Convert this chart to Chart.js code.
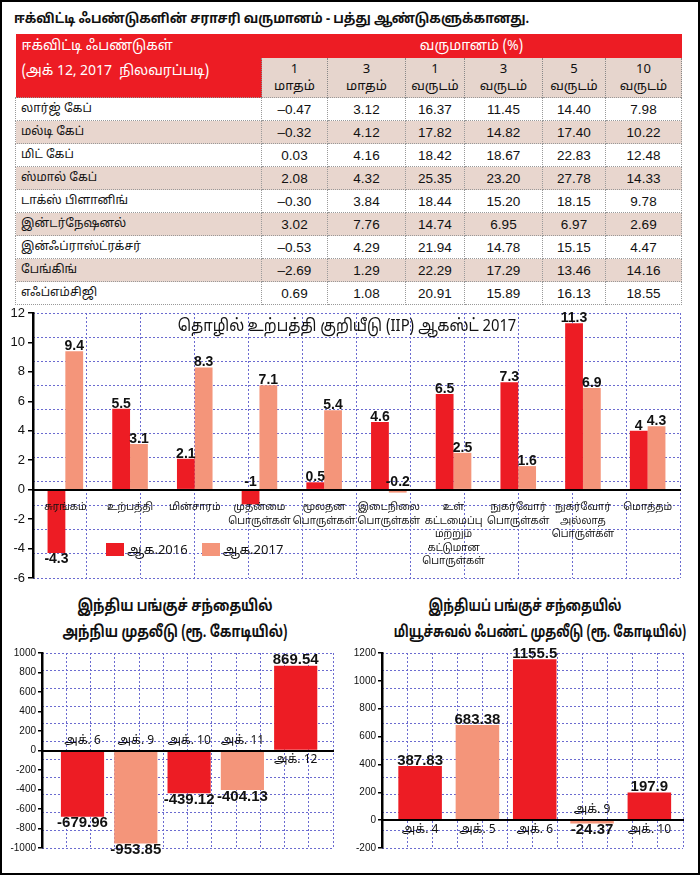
<!DOCTYPE html>
<html>
<head>
<meta charset="utf-8">
<script src="https://cdn.jsdelivr.net/npm/chart.js@4.4.0/dist/chart.umd.min.js"></script>
<style>
  html, body { margin: 0; padding: 0; background: #fff; }
  body { width: 700px; height: 875px; position: relative; overflow: hidden;
         font-family: "Noto Sans Tamil", "Lohit Tamil", "Noto Sans", "Liberation Sans", sans-serif; color: #111; }
  #frame { position: absolute; left: 0; top: 0; width: 696px; height: 871px; border: 2px solid #000; pointer-events: none; }
  #heading { position: absolute; left: 14px; top: 11px; font-size: 13.5px; font-weight: bold; white-space: nowrap;
             transform: scaleX(0.94); transform-origin: left center; }
  #tbl { position: absolute; left: 15px; top: 34px; border-collapse: collapse; table-layout: fixed; width: 666px; }
  #tbl th, #tbl td { padding: 0; font-weight: normal; }
  #tbl .corner { background: #ed1c24; color: #fff; text-align: left; vertical-align: top;
                 font-size: 14px; line-height: 25px; padding: 0 0 0 6px; }
  #tbl .ret { background: #ed1c24; color: #fff; font-size: 14px; height: 24px; }
  #tbl .per { background: #e6d5cd; font-size: 13px; line-height: 17px; height: 35px; padding-top: 4px;
              vertical-align: top; border-left: 1px dotted #888; border-right: 1px dotted #888; }
  #tbl td { height: 22px; font-size: 13.5px; border: 1px dotted #999; text-align: center;
            font-family: "Liberation Sans Narrow", "Liberation Sans", sans-serif; }
  #tbl td.name { text-align: left; padding-left: 5px; font-size: 12px;
                 font-family: "Noto Sans Tamil", "Lohit Tamil", "Noto Sans", sans-serif; }
  #tbl tr.alt td { background: #e8d6ce; }
  .box { position: absolute; }
  #iipTitle { position: absolute; left: 0; width: 694px; top: 316px; text-align: center; font-size: 17px; white-space: nowrap;
              transform: scaleX(0.87); }
  #legend { position: absolute; left: 106px; top: 543px; font-size: 13px; white-space: nowrap; }
  #legend span.sw { display: inline-block; width: 18px; height: 13px; vertical-align: -2px; margin-right: 3px; }
  #legend span.item { margin-right: 14px; }
  .btitle { position: absolute; top: 594px; text-align: center; font-size: 16px; font-weight: bold; line-height: 26px;
            white-space: nowrap; }
</style>
</head>
<body>
<div id="heading">ஈக்விட்டி ஃபண்டுகளின் சராசரி வருமானம் - பத்து ஆண்டுகளுக்கானது.</div>
<table id="tbl"></table>

<div class="box" style="left:0;top:300px;width:692px;height:290px;"><canvas id="iip"></canvas></div>
<div id="iipTitle">தொழில் உற்பத்தி குறியீடு (IIP) ஆகஸ்ட் 2017</div>
<div id="legend"></div>

<div class="btitle" style="left:0;width:350px;transform:scaleX(0.8);">இந்திய பங்குச் சந்தையில்<br>அந்நிய முதலீடு (ரூ. கோடியில்)</div>
<div class="btitle" style="left:350px;width:350px;transform:scaleX(0.75);">இந்தியப் பங்குச் சந்தையில்<br>மியூச்சுவல் ஃபண்ட் முதலீடு (ரூ. கோடியில்)</div>
<div class="box" style="left:0;top:645px;width:345px;height:215px;"><canvas id="fii"></canvas></div>
<div class="box" style="left:345px;top:645px;width:350px;height:215px;"><canvas id="mf"></canvas></div>
<div id="frame"></div>

<script>
// ---- table data ----
const fundNames = ['லார்ஜ் கேப்', 'மல்டி கேப்', 'மிட் கேப்', 'ஸ்மால் கேப்', 'டாக்ஸ் பிளானிங்',
  'இன்டர்நேஷனல்', 'இன்ஃப்ராஸ்ட்ரக்சர்', 'பேங்கிங்', 'எஃப்எம்சிஜி'];
const periodNum = ['1', '3', '1', '3', '5', '10'];
const periodUnit = ['மாதம்', 'மாதம்', 'வருடம்', 'வருடம்', 'வருடம்', 'வருடம்'];
const ret1m = [-0.47, -0.32, 0.03, 2.08, -0.30, 3.02, -0.53, -2.69, 0.69];
const ret3m = [3.12, 4.12, 4.16, 4.32, 3.84, 7.76, 4.29, 1.29, 1.08];
const ret1y = [16.37, 17.82, 18.42, 25.35, 18.44, 14.74, 21.94, 22.29, 20.91];
const ret3y = [11.45, 14.82, 18.67, 23.20, 15.20, 6.95, 14.78, 17.29, 15.89];
const ret5y = [14.40, 17.40, 22.83, 27.78, 18.15, 6.97, 15.15, 13.46, 16.13];
const ret10y = [7.98, 10.22, 12.48, 14.33, 9.78, 2.69, 4.47, 14.16, 18.55];

// ---- IIP chart data ----
const iipCats = [['சுரங்கம்'], ['உற்பத்தி'], ['மின்சாரம்'], ['முதன்மை', 'பொருள்கள்'], ['மூலதன', 'பொருள்கள்'],
  ['இடைநிலை', 'பொருள்கள்'], ['உள்', 'கட்டமைப்பு', 'மற்றும்', 'கட்டுமான', 'பொருள்கள்'],
  ['நுகர்வோர்', 'பொருள்கள்'], ['நுகர்வோர்', 'அல்லாத', 'பொருள்கள்'], ['மொத்தம்']];
const aug2016 = [-4.3, 5.5, 2.1, -1, 0.5, 4.6, 6.5, 7.3, 11.3, 4];
const aug2017 = [9.4, 3.1, 8.3, 7.1, 5.4, -0.2, 2.5, 1.6, 6.9, 4.3];
const iipTicks = [12, 10, 8, 6, 4, 2, 0, -2, -4, -6];

// ---- investment charts ----
const fiiDays = ['அக். 6', 'அக். 9', 'அக். 10', 'அக். 11', 'அக். 12'];
const fiiValues = [-679.96, -953.85, -439.12, -404.13, 869.54];
const mfDays = ['அக். 4', 'அக். 5', 'அக். 6', 'அக். 9', 'அக். 10'];
const mfValues = [387.83, 683.38, 1155.5, -24.37, 197.9];

const RED = '#ed1c24';
const SALMON = '#f4957a';
const GRID = '#6b6bd0';

// build the table
const periods = [ret1m, ret3m, ret1y, ret3y, ret5y, ret10y];
const fmt = v => v.toFixed(2).replace('-', '–');
let html = '<colgroup><col style="width:246px">' +
  [66, 78, 59, 78, 63, 76].map(w => '<col style="width:' + w + 'px">').join('') + '</colgroup>';
html += '<tr><th class="corner" rowspan="2">ஈக்விட்டி ஃபண்டுகள்<br>(அக் 12, 2017 &nbsp;நிலவரப்படி)</th>' +
  '<th class="ret" colspan="6">வருமானம் (%)</th></tr><tr>';
periodNum.forEach((n, i) => { html += '<th class="per">' + n + '<br>' + periodUnit[i] + '</th>'; });
html += '</tr>';
fundNames.forEach((name, r) => {
  html += '<tr' + (r % 2 ? ' class="alt"' : '') + '><td class="name">' + name + '</td>';
  periods.forEach(p => { html += '<td>' + fmt(p[r]) + '</td>'; });
  html += '</tr>';
});
document.getElementById('tbl').innerHTML = html;

document.getElementById('legend').innerHTML =
  '<span class="item"><span class="sw" style="background:' + RED + '"></span>ஆக.2016</span>' +
  '<span class="item"><span class="sw" style="background:' + SALMON + '"></span>ஆக.2017</span>';

// value labels (and optional category labels next to the zero line)
const barLabels = {
  id: 'barLabels',
  afterDatasetsDraw(chart, args, opts) {
    const ctx = chart.ctx;
    ctx.save();
    ctx.textAlign = 'center';
    ctx.fillStyle = '#111';
    chart.data.datasets.forEach((ds, di) => {
      chart.getDatasetMeta(di).data.forEach((bar, i) => {
        const raw = ds.data[i];
        const v = typeof raw === 'object' ? raw.y : raw;
        const base = bar.base;
        ctx.font = opts.font;
        let y;
        if (v >= 0) { ctx.textBaseline = 'bottom'; y = bar.y + 2; }
        else if (opts.shortAbove && bar.y - base < opts.shortAbove) { ctx.textBaseline = 'bottom'; y = base - 1; }
        else { ctx.textBaseline = 'top'; y = bar.y - 1; }
        ctx.fillText(String(v), bar.x, y);
        if (opts.cats) {
          ctx.font = opts.catFont;
          if (v < 0) { ctx.textBaseline = 'bottom'; ctx.fillText(opts.cats[i], bar.x, base - 4); }
          else { ctx.textBaseline = 'top'; ctx.fillText(opts.cats[i], bar.x, base + 5); }
        }
      });
    });
    ctx.restore();
  }
};

// graph-paper grid: two hidden scales cut the plot into 11 x 11 cells
function gridAxes() {
  return {
    gx: { type: 'linear', position: 'top', min: 0, max: 11, display: true,
          ticks: { display: false, stepSize: 1 },
          grid: { color: GRID, lineWidth: 1, drawTicks: false },
          border: { display: false, dash: [2, 2] } },
    gy: { type: 'linear', position: 'right', min: 0, max: 11, display: true,
          ticks: { display: false, stepSize: 1 },
          grid: { color: GRID, lineWidth: 1, drawTicks: false },
          border: { display: false, dash: [2, 2] } }
  };
}

// IIP chart
new Chart(document.getElementById('iip'), {
  type: 'bar',
  data: {
    labels: iipCats,
    datasets: [
      { label: 'ஆக.2016', data: aug2016, backgroundColor: RED, xAxisID: 'x', yAxisID: 'y' },
      { label: 'ஆக.2017', data: aug2017, backgroundColor: SALMON, xAxisID: 'x', yAxisID: 'y' }
    ]
  },
  options: {
    responsive: true, maintainAspectRatio: false, animation: false,
    categoryPercentage: 0.55, barPercentage: 1.0,
    layout: { padding: { left: 0, right: 12, top: 13, bottom: 12 } },
    plugins: {
      legend: { display: false }, tooltip: { enabled: false },
      barLabels: { font: 'bold 14px "Liberation Sans Narrow", "Liberation Sans", sans-serif', shortAbove: 20 }
    },
    scales: Object.assign(gridAxes(), {
      x: { type: 'category', position: { y: 0 },
           grid: { display: false, drawTicks: false },
           border: { display: true, color: '#000', width: 2, z: 1 },
           ticks: { z: 1, color: '#111', padding: 12, autoSkip: false, maxRotation: 0,
                    font: { size: 10, family: '"Noto Sans Tamil", "Noto Sans", sans-serif', lineHeight: 1.35 } } },
      y: { type: 'linear', position: 'left', min: -6, max: 12,
           afterFit: s => { s.width = 33; },
           afterBuildTicks: s => { s.ticks = iipTicks.map(v => ({ value: v })); },
           grid: { drawOnChartArea: false, drawTicks: true, tickLength: 5, color: '#000', lineWidth: 1.5 },
           border: { display: true, color: '#000', width: 2.5 },
           ticks: { color: '#111', padding: 3, font: { size: 13, family: '"Liberation Sans", sans-serif' } } }
    })
  },
  plugins: [barLabels]
});

function investChart(id, days, values, yMin, yMax, xMin, xMax, catPct, axisWidth) {
  return new Chart(document.getElementById(id), {
    type: 'bar',
    data: {
      datasets: [{
        data: values.map((v, i) => ({ x: i + 1, y: v })),
        backgroundColor: values.map((v, i) => i % 2 ? SALMON : RED),
        xAxisID: 'x', yAxisID: 'y'
      }]
    },
    options: {
      responsive: true, maintainAspectRatio: false, animation: false,
      categoryPercentage: catPct, barPercentage: 1.0,
      layout: { padding: { left: 2, right: 12, top: 7, bottom: 12 } },
      plugins: {
        legend: { display: false }, tooltip: { enabled: false },
        barLabels: { font: 'bold 15px "Liberation Sans Narrow", "Liberation Sans", sans-serif',
                     cats: days, catFont: '12px "Noto Sans Tamil", "Noto Sans", sans-serif' }
      },
      scales: Object.assign(gridAxes(), {
        x: { type: 'linear', position: { y: 0 }, min: xMin, max: xMax, offset: false,
             afterBuildTicks: s => { s.ticks = values.map((v, i) => ({ value: i + 1 })); },
             grid: { display: false, drawTicks: false },
             border: { display: true, color: '#000', width: 2, z: 1 },
             ticks: { display: false } },
        y: { type: 'linear', position: 'left', min: yMin, max: yMax,
             afterFit: s => { s.width = axisWidth; },
             grid: { drawOnChartArea: false, drawTicks: true, tickLength: 4, color: '#000', lineWidth: 1.5 },
             border: { display: true, color: '#000', width: 2.5 },
             ticks: { stepSize: 200, color: '#111', padding: 2, callback: v => String(v),
                      font: { size: 10, family: '"Liberation Sans", sans-serif' } } }
      })
    },
    plugins: [barLabels]
  });
}

investChart('fii', fiiDays, fiiValues, -1000, 1000, 0.24, 5.70, 0.81, 40);
investChart('mf', mfDays, mfValues, -200, 1200, 0.335, 5.587, 0.76, 35);
</script>
</body>
</html>
